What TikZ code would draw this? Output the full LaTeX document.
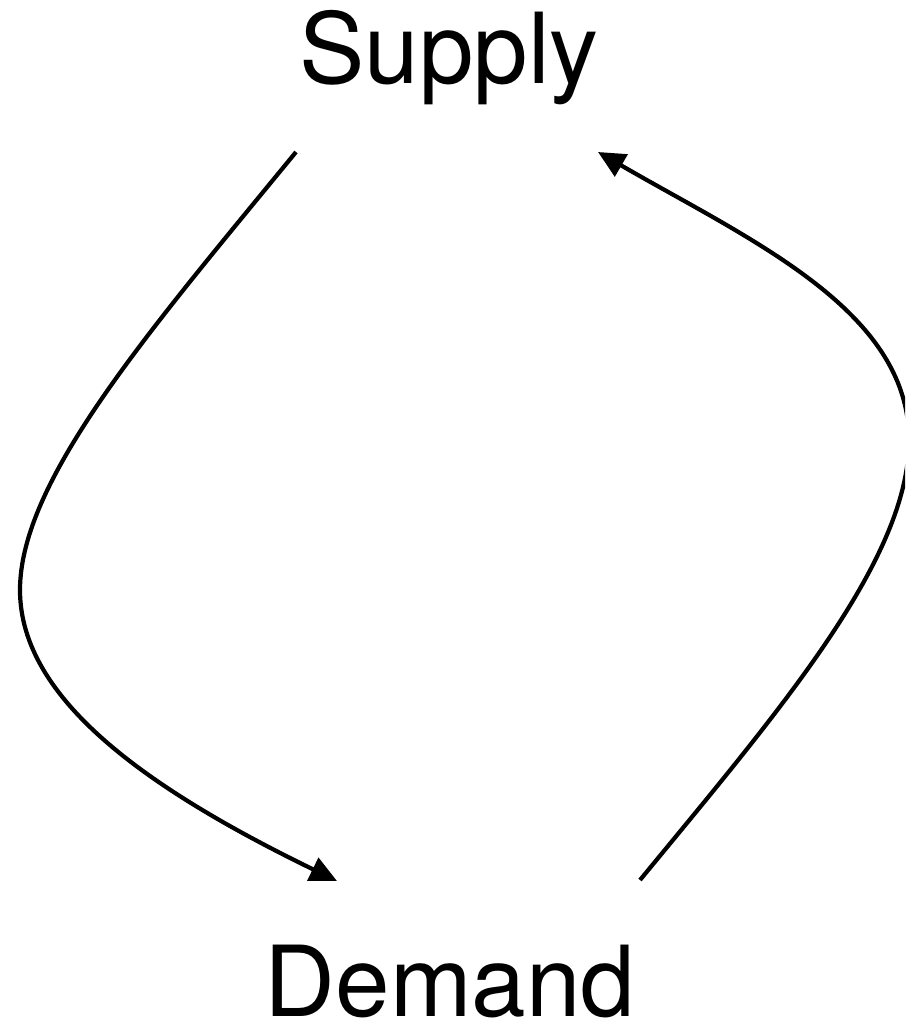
\documentclass[tikz,border=0pt]{standalone}
\usepackage{fontspec}
\setmainfont{TeX Gyre Heros}
\usetikzlibrary{arrows.meta}
\begin{document}
\begin{tikzpicture}[x=1pt,y=-1pt,
  lbl/.style={font=\fontsize{98}{100}\selectfont, inner sep=0pt, anchor=base},
  flow/.style={line width=4.2pt, -{Triangle[length=27pt,width=25pt]}}]
\useasboundingbox (0,0) rectangle (905,1027);
\begin{scope}
\clip (0,0) rectangle (905,1027);
\node[lbl] (S) at (449,84) {Supply};
\node[lbl] (D) at (450,1016) {Demand};
\coordinate (s1) at (296,152);
\coordinate (d1) at (337,881);
\coordinate (d2) at (640,880);
\coordinate (s2) at (598,152);
\coordinate (l) at (20,590);
\coordinate (r) at (909,440);
\draw[flow] (s1) .. controls (150,330) and (20,480) .. (l) .. controls (20,700) and (150,790) .. (d1);
\draw[flow] (d2) .. controls (780,710) and (909,560) .. (r) .. controls (909,310) and (750,240) .. (s2);
\end{scope}
\end{tikzpicture}
\end{document}
